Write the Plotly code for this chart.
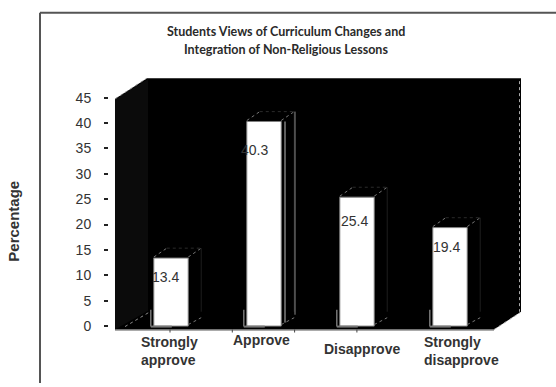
import plotly.graph_objects as go

# Survey results, percent of respondents per answer
categories = ["Strongly<br>approve", "Approve", "Disapprove", "Strongly<br>disapprove"]
percentages = [13.4, 40.3, 25.4, 19.4]
y_ticks = [0, 5, 10, 15, 20, 25, 30, 35, 40, 45]
title_lines = [
    "Students Views of Curriculum Changes and",
    "Integration of Non-Religious Lessons",
]

W, H = 556, 387

# Plot box in page pixels; the extruded backdrop reaches beyond it
LEFT, RIGHT, TOP, BOTTOM = 115, 494, 79, 333
X0_PX, X_STEP = 171, 93      # first bar centre and spacing between bars
Y0_PX, Y_UNIT = 329.5, 5.13  # zero line and pixels per percent
DEPTH_X, DEPTH_Y = 13, 10    # depth of the bars' extrusion
BAR_W = 0.37

x_range = [(LEFT - X0_PX) / X_STEP, (RIGHT - X0_PX) / X_STEP]
y_range = [(Y0_PX - BOTTOM) / Y_UNIT, (Y0_PX - TOP) / Y_UNIT]


def px(x):
    return x / W


def py(y):
    return 1 - y / H


def poly(points, fill):
    path = "M" + " L".join(f"{px(a):.5f},{py(b):.5f}" for a, b in points) + " Z"
    return dict(type="path", xref="paper", yref="paper", path=path, fillcolor=fill,
                line=dict(width=0), layer="below")


def edge(x0, y0, x1, y1, color="#8a8a8a", dash="dot", width=1, layer="above"):
    return dict(type="line", xref="paper", yref="paper", x0=px(x0), y0=py(y0), x1=px(x1), y1=py(y1),
                line=dict(color=color, width=width, dash=dash), layer=layer)


shapes = [
    # page frame, open on the right and at the bottom
    edge(40, 13, W, 13, color="#555555", dash="solid", width=2, layer="below"),
    edge(40, 13, 40, H, color="#555555", dash="solid", width=2, layer="below"),
    # backdrop, side wall and floor
    poly([(115, 100), (147, 79), (521, 79), (521, 315), (494, 333), (115, 333)], "#000000"),
    poly([(115, 100), (148, 80), (148, 314), (115, 333)], "#0b0b0b"),
    edge(115, 100, 147, 79),
    edge(519.5, 82, 519.5, 315, color="#aaaaaa"),
    edge(494, 333, 520, 316, color="#aaaaaa"),
    edge(125, 330, 150, 315),
    edge(115, 333.5, 494, 333.5, color="#666666", dash="solid"),
]

# Short category ticks under the floor edge
for i in range(len(percentages)):
    shapes.append(edge(170 + 62.3 * i, 333, 170 + 62.3 * i, 336, color="#444444", dash="solid"))

for i, value in enumerate(percentages):
    cx = X0_PX + X_STEP * i
    left, right = cx - BAR_W * X_STEP / 2, cx + BAR_W * X_STEP / 2
    top = Y0_PX - Y_UNIT * value
    shapes += [
        # extruded top and back edges of each bar
        edge(left, top - 1, left + DEPTH_X, top - DEPTH_Y, color="#777777"),
        edge(right, top - 1, right + DEPTH_X, top - DEPTH_Y, color="#777777"),
        edge(left + DEPTH_X, top - DEPTH_Y, right + DEPTH_X, top - DEPTH_Y, color="#2a2a2a"),
        edge(right + DEPTH_X, top - DEPTH_Y, right + DEPTH_X, 315, color="#1e1e1e", dash="solid"),
        edge(right, 328, right + DEPTH_X, 321, color="#777777"),
        # grey shading along the base and left foot
        edge(left - 3, 313, left - 3, 330, color="#777777", dash="solid", width=1.5),
        edge(left - 3, 330, left + 18, 330, color="#777777", dash="solid", width=2),
    ]

# The tall bar keeps two pale vertical edges on its side face
tall = X0_PX + X_STEP
tall_top = Y0_PX - Y_UNIT * percentages[1]
shapes += [
    edge(tall + 21, tall_top, tall + 21, 326, color="#bbbbbb", dash="solid"),
    edge(tall + 31, tall_top - 10, tall + 31, 318, color="#888888", dash="solid"),
]

bars = go.Bar(
    x=list(range(len(percentages))),
    y=percentages,
    width=BAR_W,
    marker=dict(color="#ffffff", line=dict(color="#808080", width=1)),
    hoverinfo="skip",
)

fig = go.Figure(bars)

annotations = []

# Value labels sit a little inside each bar, nudged towards its left edge
label_dx = [-6, -10, -3, -4]
label_dy = [19, 29, 24, 19]
for i, value in enumerate(percentages):
    annotations.append(dict(
        x=i, y=value, xref="x", yref="y", text=str(value), showarrow=False,
        xshift=label_dx[i], yshift=-label_dy[i], xanchor="center", yanchor="middle",
        font=dict(family="Liberation Sans", size=14, color="#333333"),
    ))

# Category labels are set by hand because they do not share a baseline
cat_dx = [-2, -3, 5, 11]
cat_y = [355, 344, 353, 355]
for i, name in enumerate(categories):
    annotations.append(dict(
        x=i, xref="x", y=py(cat_y[i]), yref="paper", text=f"<b>{name}</b>", showarrow=False,
        xshift=cat_dx[i], align="left", xanchor="center", yanchor="middle",
        font=dict(family="Liberation Sans", size=14, color="#333333"),
    ))

for line, y in zip(title_lines, [32, 50]):
    annotations.append(dict(
        x=px(286), xref="paper", y=py(y), yref="paper", text=f"<b>{line}</b>", showarrow=False,
        xanchor="center", yanchor="middle",
        font=dict(family="Lato", size=12.5, color="#2a2a2a"),
    ))

annotations.append(dict(
    x=px(14), xref="paper", y=py(224), yref="paper", text="<b>Percentage</b>", textangle=-90,
    showarrow=False, xanchor="center", yanchor="middle",
    font=dict(family="Liberation Sans", size=15, color="#333333"),
))

fig.update_layout(
    width=W,
    height=H,
    margin=dict(l=0, r=0, t=0, b=0, pad=0),
    paper_bgcolor="#ffffff",
    plot_bgcolor="rgba(0,0,0,0)",
    showlegend=False,
    shapes=shapes,
    annotations=annotations,
    xaxis=dict(
        domain=[LEFT / W, RIGHT / W],
        range=x_range,
        showgrid=False,
        zeroline=False,
        showticklabels=False,
        showline=False,
        ticks="",
    ),
    yaxis=dict(
        domain=[1 - BOTTOM / H, 1 - TOP / H],
        range=y_range,
        anchor="free",
        position=px(108),
        tickvals=y_ticks,
        ticks="outside",
        ticklen=4,
        tickwidth=2,
        tickcolor="#222222",
        ticklabelstandoff=10,
        tickfont=dict(family="Liberation Sans", size=14, color="#333333"),
        showgrid=False,
        zeroline=False,
        showline=False,
    ),
)

fig.write_html("out.html", config=dict(displayModeBar=False))
